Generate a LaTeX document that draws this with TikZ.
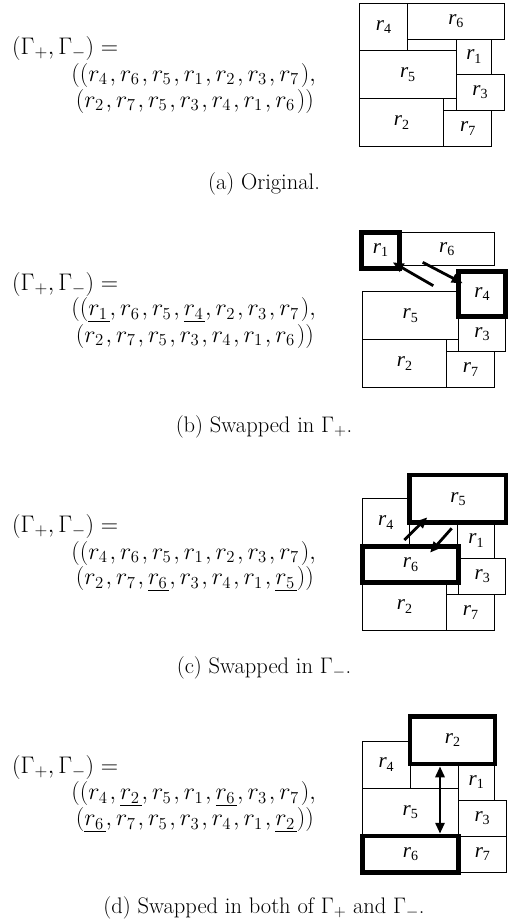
\documentclass[tikz,border=0pt]{standalone}
\usepackage{fix-cm}
\usepackage{fontspec}
\newfontfamily\tms{Liberation Serif}
\usetikzlibrary{arrows.meta}
\newcommand\rlab[1]{{\tms\itshape r}\raisebox{-0.35ex}{\tms\upshape\fontsize{14}{14}\selectfont #1}}
\newcommand\rbx[7][]{%
  \node[rbox,#1,minimum width={#5-#3},minimum height={#6-#4}] (#2) at ({(#3+#5)/2},{(#4+#6)/2}) {\rlab{#7}};}
\newcommand\uln[1]{\vtop{\hbox{$#1$}\kern1.5pt\hrule height 1.6pt}}
\newcommand\rr[1]{r_{#1}\mkern1.5mu}
\newcommand\ur[1]{\uln{\rr{#1}}}
\tikzset{
  rbox/.style={draw,line width=1pt,inner sep=0pt,font=\tms\itshape\fontsize{21}{21}\selectfont},
  thickbox/.style={line width=4.5pt},
  arr/.style={line width=2.8pt,-{Triangle[length=11pt,width=9pt]}},
  darr/.style={line width=2.8pt,{Triangle[length=11pt,width=9pt]}-{Triangle[length=11pt,width=9pt]}},
  eq/.style={inner sep=0pt,font=\fontsize{24}{28}\selectfont},
  captext/.style={inner sep=0pt,font=\fontsize{22.5}{26}\selectfont},
}
\begin{document}
\begin{tikzpicture}[x=1pt,y=-1pt]
\useasboundingbox (0,0) rectangle (508,924);
% ---------- (a)
\node[eq,anchor=west] (a1) at (12,48) {$(\Gamma_+,\Gamma_-) =$};
\node[eq,anchor=east] (a2) at (316,75) {$((\rr4,\rr6,\rr5,\rr1,\rr2,\rr3,\rr7),$};
\node[eq,anchor=east] (a3) at (314,101) {$(\rr2,\rr7,\rr5,\rr3,\rr4,\rr1,\rr6))$};
\rbx{ar4}{359.3}{3.3}{407.7}{50.7}{4}
\rbx{ar6}{407.7}{3.3}{504}{39}{6}
\rbx{ar1}{456}{39}{491.7}{74}{1}
\rbx{ar5}{359.3}{50.7}{456}{98.7}{5}
\rbx{ar3}{456}{74}{504}{110.7}{3}
\rbx{ar2}{359.3}{98.7}{443.7}{146.7}{2}
\rbx{ar7}{443.7}{110.7}{491.7}{146.7}{7}
\node[captext] (capa) at (264,184) {(a) Original.};
% ---------- (b)
\node[eq,anchor=west] (b1) at (12,284) {$(\Gamma_+,\Gamma_-) =$};
\node[eq,anchor=east] (b2) at (316,310) {$((\ur1,\rr6,\rr5,\ur4,\rr2,\rr3,\rr7),$};
\node[eq,anchor=east] (b3) at (314,336) {$(\rr2,\rr7,\rr5,\rr3,\rr4,\rr1,\rr6))$};
\rbx{br6}{399.3}{232.3}{494.3}{265.7}{6}
\rbx{br5}{362.3}{291.7}{458.3}{339.3}{5}
\rbx{br3}{458.3}{316.7}{505.7}{351.7}{3}
\rbx{br2}{362.3}{339.3}{446.7}{387.7}{2}
\rbx{br7}{446.7}{351.7}{494.3}{387.7}{7}
\rbx[thickbox]{br1}{361.7}{232.3}{399.3}{268.3}{1}
\rbx[thickbox]{br4}{458.3}{271.7}{505.7}{316.7}{4}
\coordinate (bs1) at (433.3,285.7);
\coordinate (be1) at (392.7,262.3);
\coordinate (bs2) at (422.7,262.3);
\coordinate (be2) at (462.7,283.3);
\draw[arr] (bs1) -- (be1);
\draw[arr] (bs2) -- (be2);
\node[captext] (capb) at (264,427) {(b) Swapped in $\Gamma_+$.};
% ---------- (c)
\node[eq,anchor=west] (c1) at (12,526) {$(\Gamma_+,\Gamma_-) =$};
\node[eq,anchor=east] (c2) at (316,553) {$((\rr4,\rr6,\rr5,\rr1,\rr2,\rr3,\rr7),$};
\node[eq,anchor=east] (c3) at (314,579) {$(\rr2,\rr7,\ur6,\rr3,\rr4,\rr1,\ur5))$};
\rbx{cr4}{362.3}{498.3}{409.3}{546.7}{4}
\rbx{cr1}{457.7}{522.7}{494.3}{558.3}{1}
\rbx{cr3}{458.7}{558.3}{505.7}{594.3}{3}
\rbx{cr2}{362.3}{582.7}{446.7}{630.7}{2}
\rbx{cr7}{446.7}{594.3}{494.3}{630.7}{7}
\rbx[thickbox]{cr5}{409.3}{475}{506.7}{522.7}{5}
\rbx[thickbox]{cr6}{362.3}{546.7}{458.7}{582.7}{6}
\coordinate (cs1) at (404.3,540);
\coordinate (ce1) at (427.3,517.3);
\coordinate (cs2) at (451.7,528.3);
\coordinate (ce2) at (430,552.7);
\draw[arr] (cs1) -- (ce1);
\draw[arr] (cs2) -- (ce2);
\node[captext] (capc) at (264,668) {(c) Swapped in $\Gamma_-$.};
% ---------- (d)
\node[eq,anchor=west] (d1) at (12,767) {$(\Gamma_+,\Gamma_-) =$};
\node[eq,anchor=east] (d2) at (316,794) {$((\rr4,\ur2,\rr5,\rr1,\ur6,\rr3,\rr7),$};
\node[eq,anchor=east] (d3) at (314,820) {$(\ur6,\rr7,\rr5,\rr3,\rr4,\rr1,\ur2))$};
\rbx{dr4}{362.3}{741}{410}{788.3}{4}
\rbx{dr1}{458.3}{764}{494.3}{800.7}{1}
\rbx{dr5}{362.3}{788.3}{458.3}{836}{5}
\rbx{dr3}{458.3}{800.7}{506}{836}{3}
\rbx{dr7}{458.7}{836}{506}{872.3}{7}
\rbx[thickbox]{dr2}{410}{716.7}{495}{764}{2}
\rbx[thickbox]{dr6}{362.3}{836}{458.7}{872.3}{6}
\coordinate (dx) at (440,800);
\draw[darr] (dr2.south -| dx) -- (dr6.north -| dx);
\node[captext] (capd) at (264,908) {(d) Swapped in both of $\Gamma_+$ and $\Gamma_-$.};
\end{tikzpicture}
\end{document}
